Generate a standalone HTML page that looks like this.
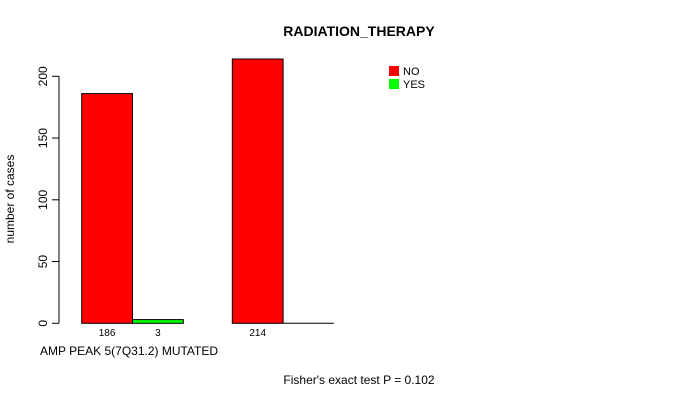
<!DOCTYPE html>
<html><head><meta charset="utf-8"><style>
body{margin:0;background:#fff}
svg text{font-family:"Liberation Sans",Arial,sans-serif}
</style></head><body>
<svg id="c" width="690" height="400" xmlns="http://www.w3.org/2000/svg">
<text x="359" y="36" font-size="14" font-weight="bold" text-anchor="middle">RADIATION_THERAPY</text>
<text x="14" y="199" font-size="12" text-anchor="middle" transform="rotate(-90 14 199)">number of cases</text>
<text x="40" y="355" font-size="12">AMP PEAK  5(7Q31.2) MUTATED</text>
<text x="359" y="384" font-size="12" text-anchor="middle">Fisher's exact test P = 0.102</text>
<g id="axis"></g>
<g id="bars"></g>
<g>
<rect x="389" y="66" width="10" height="10" fill="#ff0000"/>
<text x="403" y="75" font-size="11">NO</text>
<rect x="389" y="79" width="10" height="10" fill="#00ff00"/>
<text x="403" y="88" font-size="11">YES</text>
</g>
</svg>
<script>
const groups = ["WT", "MUTATED"];
const noValues = [186, 214];
const yesValues = [3, 0];
const yTicks = [0, 50, 100, 150, 200];

const ns = "http://www.w3.org/2000/svg";
const y0 = 323.3, pxPer = 1.235;
function yScale(v){ return y0 - v * pxPer; }
const groupStart = [81.7, 232.3], barW = 50.8;

const ax = document.getElementById('axis');
function mk(tag, attrs, parent){ const e=document.createElementNS(ns,tag); for(const k in attrs) e.setAttribute(k,attrs[k]); parent.appendChild(e); return e; }
const axLine = mk('line',{x1:59,x2:59,y1:yScale(0),y2:yScale(200),stroke:'#000'},ax);


yTicks.forEach(t=>{
  const y=yScale(t);
  const tk = mk('line',{x1:52,x2:59,y1:y,y2:y,stroke:'#000'},ax);
  
  
  const tx = mk('text',{x:47,y:y,'font-size':12,'text-anchor':'middle',transform:`rotate(-90 47 ${y})`},ax);
  tx.textContent=t;
  
  
});
const bg = document.getElementById('bars');
groups.forEach((g,i)=>{
  [[noValues[i],'#ff0000',0,'no'],[yesValues[i],'#00ff00',1,'yes']].forEach(([v,col,k,nm])=>{
    const x = groupStart[i] + k*barW;
    let r;
    if(v>0){
      r = mk('rect',{x:x,y:yScale(v),width:barW,height:yScale(0)-yScale(v),fill:col,stroke:'#000','stroke-width':1},bg);
    } else {
      r = mk('line',{x1:x,x2:x+barW,y1:yScale(0),y2:yScale(0),stroke:'#000','stroke-width':1},bg);
    }
    
    
    if(v>0){
      const t = mk('text',{x:x+barW/2,y:336,'font-size':10,'text-anchor':'middle'},bg);
      t.textContent=v;
      
      
    }
  });
});
</script>
</body></html>
